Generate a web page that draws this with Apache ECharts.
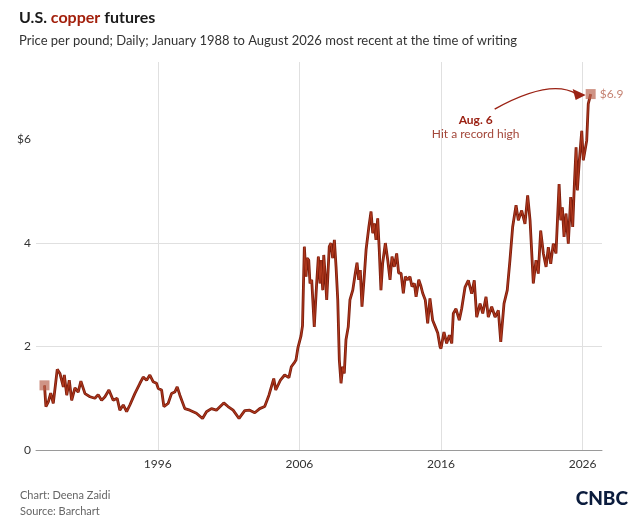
<!DOCTYPE html>
<html>
<head>
<meta charset="utf-8">
<script src="https://cdn.jsdelivr.net/npm/echarts@6/dist/echarts.min.js"></script>
<style>
  html, body { margin: 0; padding: 0; background: #fff; }
  #main { width: 640px; height: 527px; }
</style>
</head>
<body>
<div id="main"></div>
<script>
// copper price, $ per pound (decimal years)
var years = [
  1988.00, 1988.10, 1988.27, 1988.44, 1988.62, 1988.90, 1989.09, 1989.33, 1989.40, 1989.57,
  1989.75, 1989.92, 1990.15, 1990.38, 1990.57, 1990.86, 1991.21, 1991.56, 1991.79, 1992.03,
  1992.27, 1992.55, 1992.85, 1993.13, 1993.32, 1993.56, 1993.80, 1994.03, 1994.38, 1994.74,
  1994.97, 1995.21, 1995.44, 1995.67, 1995.91, 1996.03, 1996.27, 1996.43, 1996.73, 1996.97,
  1997.20, 1997.37, 1997.56, 1997.91, 1998.26, 1998.73, 1999.16, 1999.44, 1999.79, 2000.14,
  2000.66, 2000.96, 2001.32, 2001.74, 2002.14, 2002.49, 2002.85, 2003.20, 2003.55, 2003.85,
  2004.19, 2004.33, 2004.66, 2004.96, 2005.26, 2005.43, 2005.67, 2005.76, 2005.90, 2006.11,
  2006.22, 2006.35, 2006.47, 2006.54, 2006.66, 2006.75, 2006.87, 2007.05, 2007.22, 2007.34,
  2007.46, 2007.53, 2007.65, 2007.72, 2007.83, 2007.93, 2008.11, 2008.23, 2008.35, 2008.47,
  2008.59, 2008.71, 2008.82, 2008.94, 2009.06, 2009.17, 2009.29, 2009.45, 2009.57, 2009.77,
  2009.95, 2010.07, 2010.19, 2010.30, 2010.42, 2010.58, 2010.71, 2010.90, 2011.06, 2011.18,
  2011.29, 2011.41, 2011.53, 2011.64, 2011.76, 2011.88, 2012.07, 2012.24, 2012.40, 2012.54,
  2012.70, 2012.87, 2013.01, 2013.18, 2013.34, 2013.48, 2013.65, 2013.81, 2013.95, 2014.12,
  2014.24, 2014.43, 2014.59, 2014.71, 2014.89, 2015.06, 2015.22, 2015.41, 2015.60, 2015.77,
  2015.93, 2016.00, 2016.21, 2016.40, 2016.59, 2016.76, 2016.87, 2017.06, 2017.29, 2017.46,
  2017.70, 2017.93, 2018.17, 2018.35, 2018.52, 2018.76, 2018.95, 2019.18, 2019.34, 2019.58,
  2019.82, 2020.05, 2020.22, 2020.45, 2020.68, 2020.87, 2021.06, 2021.30, 2021.46, 2021.70,
  2021.93, 2022.12, 2022.29, 2022.52, 2022.71, 2022.87, 2023.04, 2023.23, 2023.42, 2023.58,
  2023.75, 2023.93, 2024.12, 2024.34, 2024.46, 2024.57, 2024.69, 2024.83, 2024.99, 2025.16,
  2025.30, 2025.42, 2025.54, 2025.63, 2025.77, 2025.94, 2026.05, 2026.29, 2026.40, 2026.57
];
var prices = [
  1.25, 0.84, 0.93, 1.10, 0.90, 1.56, 1.48, 1.22, 1.45, 1.06,
  1.35, 0.96, 1.20, 1.12, 1.33, 1.09, 1.03, 1.00, 1.07, 0.96,
  1.03, 1.16, 0.96, 1.00, 0.77, 0.87, 0.74, 0.87, 1.09, 1.29,
  1.41, 1.35, 1.45, 1.32, 1.29, 1.19, 1.16, 0.84, 0.90, 1.09,
  1.12, 1.22, 1.06, 0.80, 0.77, 0.71, 0.61, 0.74, 0.80, 0.77,
  0.91, 0.84, 0.77, 0.61, 0.76, 0.77, 0.72, 0.80, 0.84, 1.06,
  1.38, 1.16, 1.35, 1.45, 1.40, 1.61, 1.70, 1.74, 1.98, 2.20,
  2.40, 3.93, 3.35, 3.71, 3.67, 3.22, 3.29, 2.38, 3.22, 3.74,
  3.22, 3.67, 3.09, 3.77, 3.35, 2.90, 3.93, 4.00, 3.71, 4.06,
  3.54, 2.90, 1.74, 1.29, 1.61, 1.48, 2.13, 2.38, 2.90, 3.09,
  3.42, 3.62, 3.29, 3.48, 2.77, 3.35, 3.87, 4.30, 4.61, 4.19,
  4.38, 4.06, 4.48, 3.87, 3.09, 3.61, 4.00, 3.67, 3.29, 3.74,
  3.54, 3.80, 3.42, 3.42, 3.03, 3.35, 3.29, 3.35, 3.16, 3.22,
  2.96, 3.29, 3.16, 3.03, 2.90, 2.45, 2.93, 2.51, 2.38, 2.26,
  2.00, 1.96, 2.28, 2.06, 2.22, 2.06, 2.64, 2.73, 2.51, 2.73,
  3.15, 3.28, 3.02, 3.28, 2.57, 2.83, 2.64, 2.96, 2.57, 2.77,
  2.57, 2.70, 2.09, 2.83, 3.09, 3.67, 4.31, 4.73, 4.44, 4.63,
  4.37, 4.92, 4.44, 3.22, 3.67, 3.41, 4.24, 3.80, 3.54, 3.92,
  3.60, 3.99, 3.80, 5.14, 4.44, 4.69, 4.12, 4.57, 3.99, 4.89,
  4.31, 5.14, 5.85, 5.02, 5.60, 6.17, 5.60, 5.98, 6.69, 6.88
];
// first and last point get a square marker
var markYears = [1988.00, 2026.57];
var markPrices = [1.25, 6.88];
var markLabels = ['', '$6.9'];
var xTicks = [1996, 2006, 2016, 2026];
var yTicks = [0, 2, 4, 6];

var chart = echarts.init(document.getElementById('main'), null, { renderer: 'canvas' });
var font = 'Lato, "Open Sans", sans-serif';

var lineData = years.map(function (y, i) { return [y, prices[i]]; });
var markData = markYears.map(function (y, i) { return [y, markPrices[i]]; });

var option = {
    animation: false,
    backgroundColor: '#fff',
    textStyle: { fontFamily: font },
    title: [{
        text: '{a|U.S. }{r|copper}{a| futures}',
        left: 14, top: 5,
        textStyle: {
            rich: {
                a: { fontSize: 16, fontWeight: 'bold', color: '#1a1a1a', fontFamily: font },
                r: { fontSize: 16, fontWeight: 'bold', color: '#a3200c', fontFamily: font }
            }
        }
    }, {
        text: 'Price per pound; Daily; January 1988 to August 2026 most recent at the time of writing',
        left: 14, top: 29,
        textStyle: { fontSize: 13, fontWeight: 'normal', color: '#333', fontFamily: font }
    }, {
        text: 'Chart: Deena Zaidi\nSource: Barchart',
        left: 15, top: 482,
        textStyle: { fontSize: 11, fontWeight: 'normal', color: '#666', lineHeight: 16, fontFamily: font }
    }],
    grid: { left: 36, right: 38, top: 62, bottom: 77 },
    xAxis: {
        type: 'value',
        min: 1987.4, max: 2027.37,
        axisLine: { show: true, lineStyle: { color: '#9a9a9a', width: 1 } },
        axisTick: { show: false, customValues: xTicks },
        axisLabel: {
            customValues: xTicks, color: '#333', fontSize: 12, margin: 8,
            formatter: function (v) { return String(v); }
        },
        splitLine: { show: true, lineStyle: { color: '#e0e0e0', width: 1 } }
    },
    yAxis: {
        type: 'value',
        min: 0, max: 7.5,
        axisLine: { show: false },
        axisTick: { show: false, customValues: yTicks },
        axisLabel: {
            customValues: yTicks, color: '#333', fontSize: 12, margin: 5,
            formatter: function (v) { return v === 6 ? '$6' : String(v); }
        },
        splitLine: { show: true, showMaxLine: false, lineStyle: { color: '#e0e0e0', width: 1 } }
    },
    series: [{
        type: 'line',
        data: lineData,
        showSymbol: false,
        lineStyle: { color: '#7a1c0c', width: 2.8 },
        z: 3
    }, {
        type: 'line',
        data: lineData,
        showSymbol: false,
        lineStyle: { color: '#b0381d', width: 1.1 },
        z: 4
    }, {
        type: 'scatter',
        data: markData,
        symbol: 'rect',
        symbolSize: 10,
        itemStyle: { color: 'rgba(184,98,78,0.85)' },
        label: {
            show: true, position: 'right', distance: 4,
            color: '#b5614d', fontSize: 12, fontFamily: font,
            formatter: function (p) { return markLabels[p.dataIndex]; }
        },
        z: 5
    }]
};
chart.setOption(option);

// annotation anchored on the record-high point
var p = chart.convertToPixel({ gridIndex: 0 }, markData[1]);
var annColor = '#9b2214';
chart.setOption({
    graphic: [{
        type: 'text',
        x: p[0] - 115, y: p[1] + 26,
        style: { text: 'Aug. 6', font: 'bold 12px ' + font, fill: annColor, align: 'center', verticalAlign: 'middle' }
    }, {
        type: 'text',
        x: p[0] - 115, y: p[1] + 40,
        style: { text: 'Hit a record high', font: '12px ' + font, fill: '#a3473a', align: 'center', verticalAlign: 'middle' }
    }, {
        type: 'bezierCurve',
        shape: { x1: p[0] - 96, y1: p[1] + 15, cpx1: p[0] - 40, cpy1: p[1] - 16, x2: p[0] - 14, y2: p[1] },
        style: { stroke: annColor, lineWidth: 1.5, fill: null }
    }, {
        type: 'polygon',
        shape: { points: [[p[0] - 5, p[1] + 1], [p[0] - 18, p[1] - 5], [p[0] - 15, p[1] + 6]] },
        style: { fill: annColor }
    }, {
        type: 'text',
        right: 12, bottom: 19,
        style: { text: 'CNBC', font: '900 19px ' + font, fill: '#0b1c3d' }
    }]
});
</script>
</body>
</html>
